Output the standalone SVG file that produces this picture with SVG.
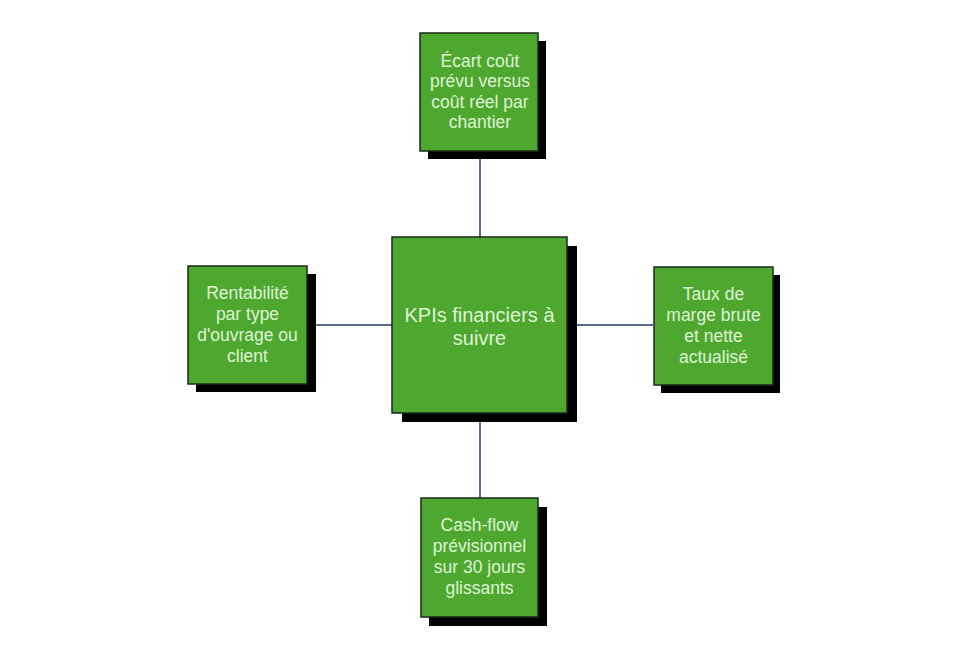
<svg xmlns="http://www.w3.org/2000/svg" width="979" height="653" viewBox="0 0 979 653">
<style>
.shadow{fill:#000}
.box{fill:#4ea72e;stroke:#1b2a1b;stroke-width:1.5}
.t{font-family:"Liberation Sans",Arial,sans-serif;fill:#dff5d6;text-anchor:middle;font-size:17.5px}
.tc{font-size:20px}
.conn{stroke:#1f3864;stroke-width:1.5;fill:none}
</style>
<rect width="979" height="653" fill="#fff"/>
<g id="connectors">
<line class="conn" x1="480" y1="151" x2="480" y2="237"/>
<line class="conn" x1="480" y1="413" x2="480" y2="498"/>
<line class="conn" x1="307" y1="325" x2="392" y2="325"/>
<line class="conn" x1="567" y1="325" x2="653" y2="325"/>
</g>
<g id="center">
<rect class="shadow" x="402" y="246" width="175" height="176"/>
<rect class="box" x="392" y="237" width="175" height="176"/>
<text class="t tc" x="479.5" y="322">KPIs financiers à</text>
<text class="t tc" x="479.5" y="345">suivre</text>
</g>
<g id="top">
<rect class="shadow" x="428" y="41" width="118" height="118"/>
<rect class="box" x="420" y="33" width="118" height="118"/>
<text class="t" x="480" y="66.5">Écart coût</text>
<text class="t" x="480" y="87">prévu versus</text>
<text class="t" x="480" y="107.5">coût réel par</text>
<text class="t" x="480" y="128">chantier</text>
</g>
<g id="left">
<rect class="shadow" x="196" y="274" width="120" height="118"/>
<rect class="box" x="188" y="266" width="119" height="118"/>
<text class="t" x="247.5" y="298.5">Rentabilité</text>
<text class="t" x="247.5" y="319.5">par type</text>
<text class="t" x="247.5" y="340.5">d'ouvrage ou</text>
<text class="t" x="247.5" y="361.5">client</text>
</g>
<g id="right">
<rect class="shadow" x="661" y="275" width="119" height="118"/>
<rect class="box" x="654" y="267" width="119" height="118"/>
<text class="t" x="713.5" y="300">Taux de</text>
<text class="t" x="713.5" y="321">marge brute</text>
<text class="t" x="713.5" y="342">et nette</text>
<text class="t" x="713.5" y="363">actualisé</text>
</g>
<g id="bottom">
<rect class="shadow" x="429" y="507" width="118" height="119"/>
<rect class="box" x="421" y="498" width="117" height="119"/>
<text class="t" x="479.5" y="531">Cash-flow</text>
<text class="t" x="479.5" y="552">prévisionnel</text>
<text class="t" x="479.5" y="573">sur 30 jours</text>
<text class="t" x="479.5" y="594">glissants</text>
</g>
</svg>
